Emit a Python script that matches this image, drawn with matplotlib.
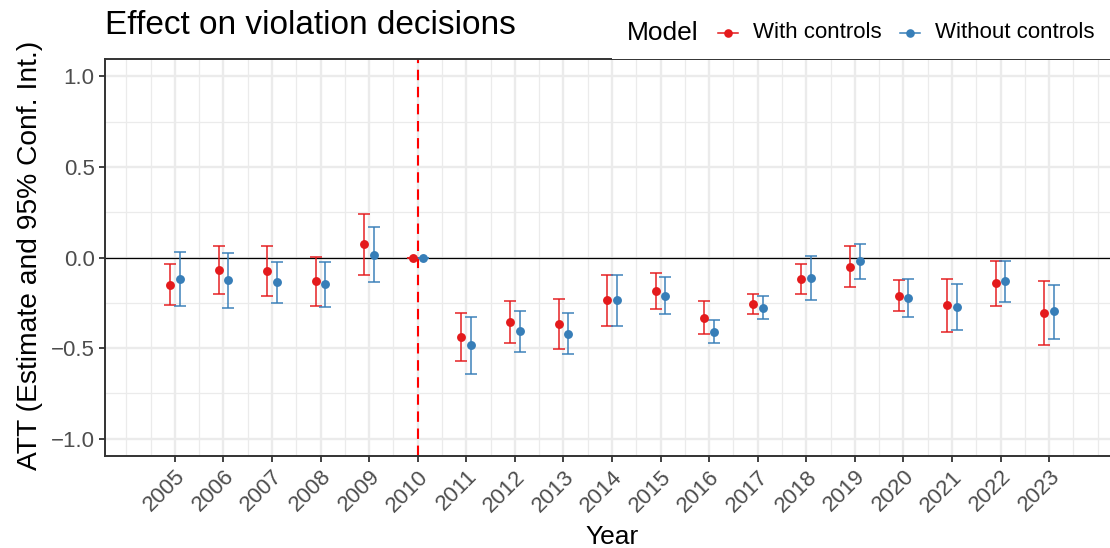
import numpy as np
import matplotlib
matplotlib.use("Agg")
import matplotlib.pyplot as plt
from matplotlib.lines import Line2D
from matplotlib.patches import Rectangle

plt.rcParams["font.family"] = ["Liberation Sans", "DejaVu Sans"]

# Event-study estimates (ATT) with 95% confidence intervals
years = list(range(2005, 2024))

with_est = [-0.151, -0.070, -0.075, -0.132, 0.074, 0.0, -0.440, -0.355, -0.366, -0.235,
            -0.184, -0.335, -0.256, -0.118, -0.050, -0.212, -0.263, -0.142, -0.304]
with_lo = [-0.265, -0.199, -0.215, -0.269, -0.097, 0.0, -0.573, -0.471, -0.508, -0.376,
           -0.287, -0.425, -0.313, -0.199, -0.162, -0.296, -0.409, -0.269, -0.481]
with_hi = [-0.037, 0.061, 0.065, 0.002, 0.243, 0.0, -0.307, -0.239, -0.228, -0.094,
           -0.083, -0.243, -0.199, -0.035, 0.061, -0.127, -0.121, -0.018, -0.130]

without_est = [-0.120, -0.125, -0.136, -0.147, 0.015, 0.0, -0.486, -0.407, -0.422, -0.235,
               -0.210, -0.410, -0.278, -0.112, -0.020, -0.221, -0.274, -0.132, -0.298]
without_lo = [-0.269, -0.278, -0.250, -0.273, -0.138, 0.0, -0.641, -0.523, -0.534, -0.376,
              -0.311, -0.475, -0.342, -0.234, -0.121, -0.328, -0.401, -0.246, -0.451]
without_hi = [0.031, 0.024, -0.024, -0.023, 0.166, 0.0, -0.329, -0.293, -0.307, -0.094,
              -0.105, -0.348, -0.212, 0.008, 0.076, -0.118, -0.149, -0.018, -0.151]

series_names = ["With controls", "Without controls"]
series_colors = ["#E41A1C", "#377EB8"]
treatment_year = 2010

W, H = 1110, 548
fig = plt.figure(figsize=(W / 100, H / 100), dpi=100)
ax = fig.add_axes([105 / W, 1 - 455.7 / H, (1119 - 105) / W, (455.7 - 59.3) / H])

yrs = np.array(years, dtype=float)
dodge = 0.1
series = [
    (with_est, with_lo, with_hi, -dodge),
    (without_est, without_lo, without_hi, dodge),
]

# grid
grid_col = "#EBEBEB"
ax.set_xlim(2003.56, 2024.44)
ax.set_ylim(-1.095, 1.095)
ax.set_xticks(years)
ax.set_xticks([v for v in np.arange(2004, 2024.01, 0.5) if v not in years], minor=True)
ax.set_yticks([-1.0, -0.5, 0.0, 0.5, 1.0])
ax.set_yticks([-0.75, -0.25, 0.25, 0.75], minor=True)
ax.grid(which="major", color=grid_col, lw=1.7, zorder=0)
ax.grid(which="minor", color=grid_col, lw=0.9, zorder=0)
ax.set_axisbelow(True)

ax.axhline(0, color="black", lw=0.9, zorder=1)
ax.axvline(treatment_year, color="#FF0000", lw=1.5, ls=(0, (5, 3.2)), zorder=1.5)

for (est, lo, hi, off), col in zip(series, series_colors):
    est = np.array(est)
    lo = np.array(lo)
    hi = np.array(hi)
    x = yrs + off
    ax.errorbar(x, est, yerr=[est - lo, hi - est], fmt="none", ecolor=col,
                elinewidth=1.25, capsize=4.4, capthick=1.25, alpha=0.85, zorder=2)
    ax.plot(x, est, "o", color=col, ms=6.4, mec="none", zorder=3)

for s in ax.spines.values():
    s.set_color("#333333")
    s.set_linewidth(1.4)

ax.tick_params(which="major", direction="out", length=4.5, width=1.3, color="#333333",
               labelsize=16, labelcolor="#4D4D4D", pad=3)
ax.tick_params(which="minor", length=0)
ax.set_xticklabels([str(y) for y in years], rotation=45, ha="right", va="top",
                   rotation_mode="anchor")
ax.set_yticklabels(["\u22121.0", "\u22120.5", "0.0", "0.5", "1.0"])

fig.text(612 / W, 1 - 537 / H, "Year", ha="center", va="center", fontsize=19)
fig.text(30 / W, 1 - 255 / H, "ATT (Estimate and 95% Conf. Int.)", rotation=90,
         ha="center", va="center", fontsize=20.3)
fig.text(105 / W, 1 - 25 / H, "Effect on violation decisions", ha="left", va="center",
         fontsize=24)

# legend box background overlapping the panel's top border
fig.add_artist(Rectangle((612 / W, 1 - 59.2 / H), (W - 612) / W, 59.2 / H,
                         transform=fig.transFigure, facecolor="white",
                         edgecolor="none", zorder=1))

ly = 1 - 33 / H
fig.text(627 / W, ly, "Model", ha="left", va="center", fontsize=19, zorder=4)
key_x = [728, 910]
text_x = [753, 935]
for name, col, kx, tx in zip(series_names, series_colors, key_x, text_x):
    fig.add_artist(Line2D([(kx - 10) / W, (kx + 10) / W], [ly, ly], color=col, lw=1.1,
                          transform=fig.transFigure, zorder=4))
    fig.add_artist(Line2D([kx / W], [ly], marker="o", ms=6.2, color=col, mec="none",
                          transform=fig.transFigure, zorder=4))
    fig.text(tx / W, ly, name, ha="left", va="center", fontsize=16, zorder=4)

fig.savefig("out.png", dpi=100, facecolor="white")
